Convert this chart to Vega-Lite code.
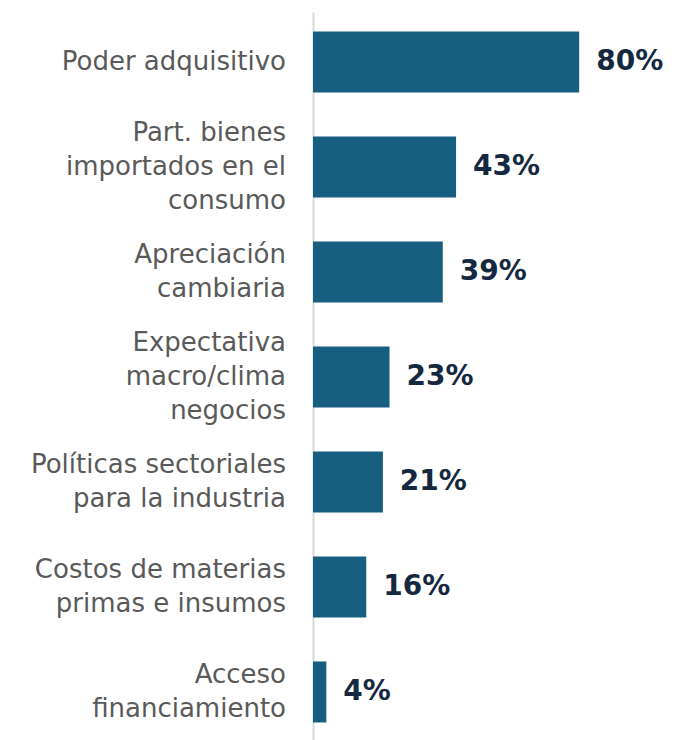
{
  "$schema": "https://vega.github.io/schema/vega-lite/v6.json",
  "width": 366,
  "height": 730,
  "autosize": {"type": "none"},
  "padding": {"left": 313, "top": 12, "right": 0, "bottom": 0},
  "background": "white",
  "config": {"view": {"stroke": null}},
  "data": {
    "values": [
      {"factor": "Poder adquisitivo", "pct": 80},
      {"factor": "Part. bienes\nimportados en el\nconsumo", "pct": 43},
      {"factor": "Apreciación\ncambiaria", "pct": 39},
      {"factor": "Expectativa\nmacro/clima\nnegocios", "pct": 23},
      {"factor": "Políticas sectoriales\npara la industria", "pct": 21},
      {"factor": "Costos de materias\nprimas e insumos", "pct": 16},
      {"factor": "Acceso\nfinanciamiento", "pct": 4}
    ]
  },
  "encoding": {
    "y": {
      "field": "factor",
      "type": "nominal",
      "sort": null,
      "scale": {"paddingInner": 0.419, "paddingOuter": 0.186},
      "axis": {
        "title": null,
        "ticks": false,
        "labels": false,
        "domain": true,
        "domainColor": "#d9d9d9",
        "domainWidth": 2
      }
    }
  },
  "layer": [
    {
      "mark": {"type": "bar", "color": "#175f80"},
      "encoding": {
        "x": {
          "field": "pct",
          "type": "quantitative",
          "scale": {"domain": [0, 110]},
          "axis": null
        }
      }
    },
    {
      "mark": {
        "type": "text",
        "align": "left",
        "baseline": "middle",
        "dx": 17,
        "font": "DejaVu Sans",
        "fontWeight": "bold",
        "fontSize": 28,
        "color": "#14283f",
        "text": {"expr": "datum.pct + '%'"}
      },
      "encoding": {
        "x": {"field": "pct", "type": "quantitative"}
      }
    },
    {
      "mark": {
        "type": "text",
        "align": "right",
        "baseline": "middle",
        "dx": -27,
        "font": "DejaVu Sans",
        "fontSize": 26,
        "lineHeight": 34,
        "color": "#595959",
        "text": {"expr": "split(datum.factor, '\\n')"},
        "dy": {"expr": "-(length(split(datum.factor, '\\n')) - 1) * 17"}
      },
      "encoding": {
        "x": {"datum": 0, "type": "quantitative"}
      }
    }
  ]
}
